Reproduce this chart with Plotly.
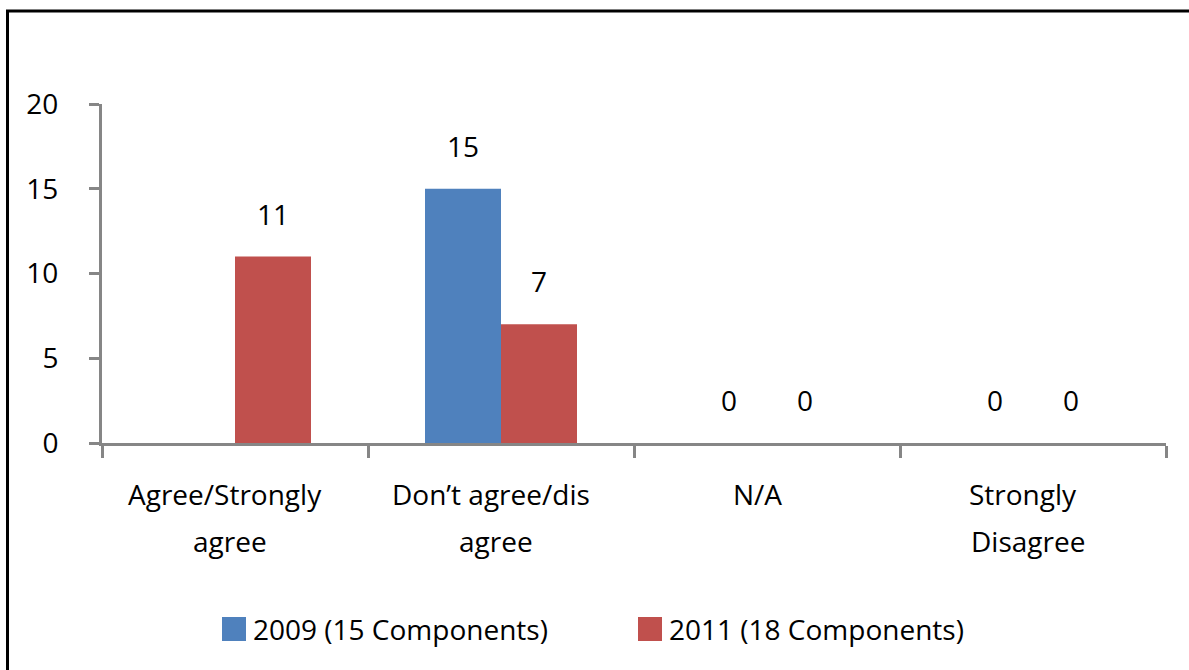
import plotly.graph_objects as go

categories = ["Agree/Strongly agree", "Don\u2019t agree/dis agree", "N/A", "Strongly Disagree"]
label_lines = [["Agree/Strongly", "agree"], ["Don\u2019t agree/dis", "agree"], ["N/A", ""], ["Strongly", "Disagree"]]
series_names = ["2009 (15 Components)", "2011 (18 Components)"]
values_2009 = [None, 15, 0, 0]
values_2011 = [11, 7, 0, 0]
y_ticks = [0, 5, 10, 15, 20]

colors = ["#4F81BD", "#C0504D"]
AXIS = "#868686"
FONT = "Open Sans"
FS = 28

W, H = 1189, 670
L, R, T, B = 102, 23, 104, 227
PW, PH = W - L - R, H - T - B


def px_x(px):
    return (px - L) / PW


def px_y(py):
    return (H - B - py) / PH


fig = go.Figure()
for name, vals, col in zip(series_names, [values_2009, values_2011], colors):
    fig.add_trace(go.Bar(x=categories, y=vals, name=name, marker=dict(color=col, line=dict(width=0)),
                         showlegend=False))

bar_px = PW / len(categories) * (1 - 0.4286) / 2
annotations = []
for si, vals in enumerate([values_2009, values_2011]):
    shift = (si - 0.5) * bar_px
    for c, v in zip(categories, vals):
        if v is None:
            continue
        annotations.append(dict(x=c, y=v, xref="x", yref="y", text=str(v), showarrow=False,
                                xshift=shift, yshift=43, yanchor="middle",
                                font=dict(family=FONT, size=FS, color="black")))

line_y = [494, 541]
line_xshift = [-10, -5]
for c, lines in zip(categories, label_lines):
    for li, t in enumerate(lines):
        if not t:
            continue
        annotations.append(dict(x=c, y=px_y(line_y[li]), xref="x", yref="paper", text=t, showarrow=False,
                                yanchor="middle", xanchor="center", xshift=line_xshift[li],
                                font=dict(family=FONT, size=FS, color="black")))

shapes = [dict(type="rect", xref="paper", yref="paper", x0=px_x(7.5), x1=px_x(1210),
               y0=px_y(700), y1=px_y(11), line=dict(color="black", width=3), fillcolor="rgba(0,0,0,0)")]

legend_pos = [222, 638]
for name, col, lx in zip(series_names, colors, legend_pos):
    shapes.append(dict(type="rect", xref="paper", yref="paper", x0=px_x(lx), x1=px_x(lx + 24),
                       y0=px_y(641), y1=px_y(617), fillcolor=col, line=dict(width=0)))
    annotations.append(dict(x=px_x(lx + 29), y=px_y(629), xref="paper", yref="paper", text=name,
                            showarrow=False, xanchor="left", yanchor="middle",
                            font=dict(family=FONT, size=FS, color="black")))

fig.update_layout(
    width=W, height=H, autosize=False,
    margin=dict(l=L, r=R, t=T, b=B, pad=0),
    paper_bgcolor="white", plot_bgcolor="white",
    barmode="group", bargap=0.4286, bargroupgap=0,
    font=dict(family=FONT, size=FS, color="black"),
    annotations=annotations, shapes=shapes,
    xaxis=dict(type="category", categoryorder="array", categoryarray=categories,
               range=[-0.5, len(categories) - 0.5], tickson="boundaries",
               ticks="outside", ticklen=12, tickwidth=3, tickcolor=AXIS,
               showline=True, linewidth=3, linecolor=AXIS, showticklabels=False,
               showgrid=False, zeroline=False),
    yaxis=dict(range=[0, 20], tickvals=y_ticks, ticks="outside", ticklen=10, tickwidth=3,
               tickcolor=AXIS, showline=True, linewidth=3, linecolor=AXIS, showgrid=False,
               zeroline=False, ticklabelstandoff=25,
               tickfont=dict(family=FONT, size=FS, color="black")),
)

fig.write_html("out.html")
